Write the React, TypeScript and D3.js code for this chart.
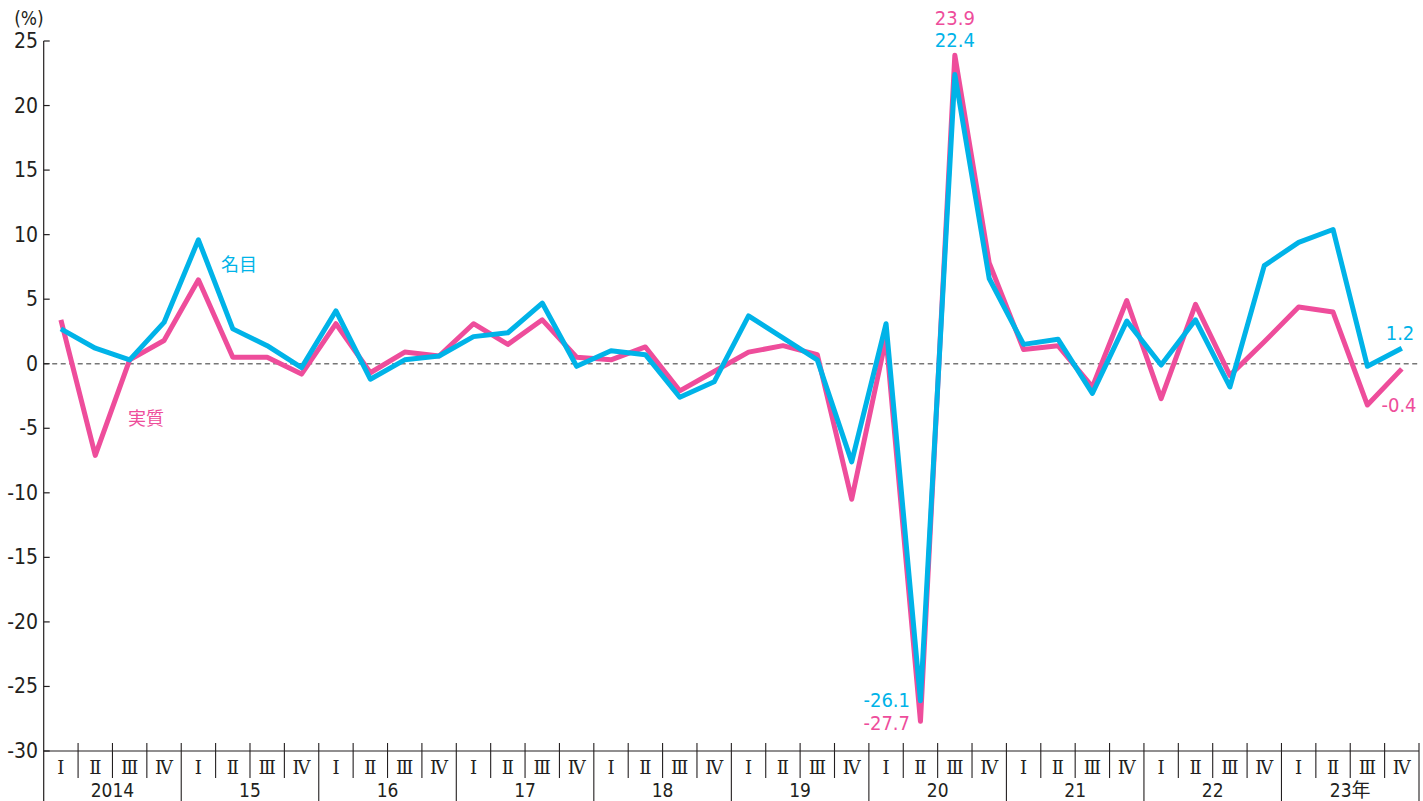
import React from "react";
import * as d3 from "d3";

const years = ["2014", "15", "16", "17", "18", "19", "20", "21", "22", "23年"];
const quarterLabels = ["Ⅰ", "Ⅱ", "Ⅲ", "Ⅳ"];
const yTicks = [25, 20, 15, 10, 5, 0, -5, -10, -15, -20, -25, -30];

const nominal = [
  2.7, 1.2, 0.3, 3.2, 9.6, 2.7, 1.4, -0.3, 4.1, -1.2, 0.3, 0.6, 2.1, 2.4, 4.7, -0.2,
  1.0, 0.7, -2.6, -1.4, 3.7, 2.0, 0.3, -7.6, 3.1, -26.1, 22.4, 6.6, 1.5, 1.9, -2.3, 3.3,
  -0.1, 3.4, -1.8, 7.6, 9.4, 10.4, -0.2, 1.2,
];
const real = [
  3.4, -7.1, 0.3, 1.8, 6.5, 0.5, 0.5, -0.8, 3.1, -0.7, 0.9, 0.6, 3.1, 1.5, 3.4, 0.5,
  0.3, 1.3, -2.1, -0.6, 0.9, 1.4, 0.7, -10.5, 2.0, -27.7, 23.9, 7.8, 1.1, 1.4, -1.8, 4.9,
  -2.7, 4.6, -0.9, 1.7, 4.4, 4.0, -3.2, -0.4,
];

const PINK = "#ee4d9b";
const BLUE = "#00b3e8";
const TEXT = "#231f20";
const NUM_FONT = "'Liberation Sans Narrow', 'DejaVu Sans Condensed', 'Roboto', sans-serif";
const ROMAN_FONT = "'DejaVu Serif', 'Liberation Serif', serif";
const CJK_FONT = "'Noto Sans CJK JP', sans-serif";

export default function App() {
  const W = 1423;
  const H = 801;
  const left = 43.7;
  const right = 1419;
  const n = nominal.length;

  const x = d3.scaleLinear().domain([0, n]).range([left, right]);
  const y = d3.scaleLinear().domain([-30, 25]).range([751, 41]);
  const cx = (i: number) => x(i + 0.5);

  const line = d3
    .line<number>()
    .x((_, i) => cx(i))
    .y((d) => y(d));

  const axisY = y(-30);

  return (
    <svg
      width={W}
      height={H}
      style={{ position: "absolute", left: 0, top: 0, background: "#fff" }}
    >
      {/* zero line */}
      <line
        x1={left}
        x2={right}
        y1={y(0)}
        y2={y(0)}
        stroke="#777"
        strokeWidth={1.6}
        strokeDasharray="5,3.5"
      />

      {/* y axis */}
      <line x1={left} x2={left} y1={y(25)} y2={H} stroke={TEXT} strokeWidth={1.2} />
      {yTicks.map((t) => (
        <g key={t}>
          <line x1={left} x2={left + 6} y1={y(t)} y2={y(t)} stroke={TEXT} strokeWidth={1.2} />
          <text
            x={38}
            y={y(t)}
            textAnchor="end"
            dominantBaseline="central"
            fontFamily={NUM_FONT}
            fontSize={21}
            fill={TEXT}
          >
            {t}
          </text>
        </g>
      ))}
      <text x={29} y={18} textAnchor="middle" dominantBaseline="central" fontFamily={NUM_FONT} fontSize={19} fill={TEXT}>
        (%)
      </text>

      {/* x axis */}
      <line x1={left} x2={right} y1={axisY} y2={axisY} stroke={TEXT} strokeWidth={1.2} />
      {d3.range(n + 1).map((i) => {
        const isYear = i % 4 === 0;
        if (i === 0) return null;
        return (
          <line
            key={"d" + i}
            x1={x(i)}
            x2={x(i)}
            y1={axisY - 8}
            y2={isYear ? H : 778}
            stroke={TEXT}
            strokeWidth={1.1}
          />
        );
      })}
      {d3.range(n).map((i) => (
        <text
          key={"q" + i}
          x={cx(i)}
          y={767}
          textAnchor="middle"
          dominantBaseline="central"
          fontFamily={ROMAN_FONT}
          fontSize={18}
          fill={TEXT}
        >
          {quarterLabels[i % 4]}
        </text>
      ))}
      {years.map((yr, k) => (
        <text
          key={yr}
          x={(x(k * 4) + x(k * 4 + 4)) / 2}
          y={790}
          textAnchor="middle"
          dominantBaseline="central"
          fontFamily={yr.includes("年") ? NUM_FONT + ", " + CJK_FONT : NUM_FONT}
          fontSize={19}
          fill={TEXT}
        >
          {yr}
        </text>
      ))}

      {/* series */}
      <path d={line(real) || ""} fill="none" stroke={PINK} strokeWidth={5} strokeLinejoin="round" />
      <path d={line(nominal) || ""} fill="none" stroke={BLUE} strokeWidth={5} strokeLinejoin="round" />

      {/* series labels */}
      <text x={239} y={263} textAnchor="middle" dominantBaseline="central" fontFamily={CJK_FONT} fontSize={18} fill={BLUE}>
        名目
      </text>
      <text x={146} y={417} textAnchor="middle" dominantBaseline="central" fontFamily={CJK_FONT} fontSize={18} fill={PINK}>
        実質
      </text>

      {/* value annotations */}
      <text x={cx(26)} y={25} textAnchor="middle" fontFamily={NUM_FONT} fontSize={20} fill={PINK}>
        {real[26].toFixed(1)}
      </text>
      <text x={cx(26)} y={47} textAnchor="middle" fontFamily={NUM_FONT} fontSize={20} fill={BLUE}>
        {nominal[26].toFixed(1)}
      </text>
      <text x={910} y={707} textAnchor="end" fontFamily={NUM_FONT} fontSize={20} fill={BLUE}>
        {nominal[25].toFixed(1)}
      </text>
      <text x={910} y={730} textAnchor="end" fontFamily={NUM_FONT} fontSize={20} fill={PINK}>
        {real[25].toFixed(1)}
      </text>
      <text x={1400} y={340} textAnchor="middle" fontFamily={NUM_FONT} fontSize={20} fill={BLUE}>
        {nominal[39].toFixed(1)}
      </text>
      <text x={1399} y={412} textAnchor="middle" fontFamily={NUM_FONT} fontSize={20} fill={PINK}>
        {real[39].toFixed(1)}
      </text>
    </svg>
  );
}
